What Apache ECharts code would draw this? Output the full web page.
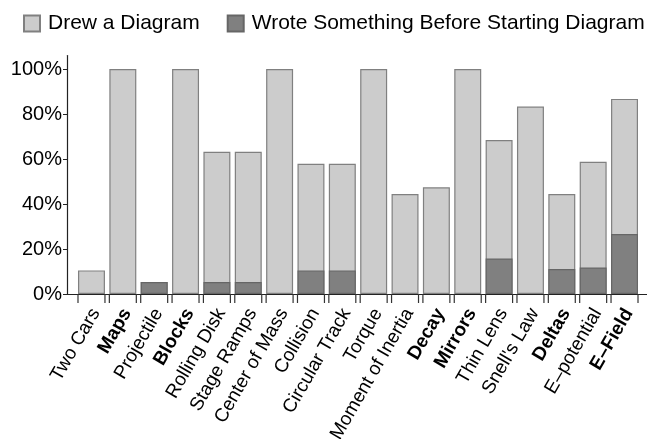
<!DOCTYPE html>
<html>
<head>
<meta charset="utf-8">
<script src="https://cdn.jsdelivr.net/npm/echarts@6/dist/echarts.min.js"></script>
<style>
  html, body { margin: 0; padding: 0; background: #fff; }
  #chart { width: 647px; height: 439px; }
</style>
</head>
<body>
<div id="chart"></div>
<script>
const categories = [
  "Two Cars", "Maps", "Projectile", "Blocks", "Rolling Disk", "Stage Ramps",
  "Center of Mass", "Collision", "Circular Track", "Torque", "Moment of Inertia",
  "Decay", "Mirrors", "Thin Lens", "Snell's Law", "Deltas", "E–potential", "E–Field",
];
const boldLabels = ["Maps", "Blocks", "Decay", "Mirrors", "Deltas", "E–Field"];

// percent of students
const drewDiagram = [10.5, 100, 5.3, 100, 63.2, 63.2, 100, 57.9, 57.9, 100, 44.4, 47.4, 100, 68.4, 83.3, 44.4, 58.8, 86.7];
const wroteFirst = [0, 0, 5.3, 0, 5.3, 5.3, 0, 10.5, 10.5, 0, 0, 0, 0, 15.8, 0, 11.1, 11.8, 26.7];

const yTicks = [0, 20, 40, 60, 80, 100];

const FONT = "'Liberation Sans', Arial, sans-serif";
const chart = echarts.init(document.getElementById("chart"));

const gridTop = 55.5, gridBottom = 145;

chart.setOption({
  animation: false,
  textStyle: { fontFamily: FONT },
  legend: {
    data: ["Drew a Diagram", "Wrote Something Before Starting Diagram"],
    left: 23,
    top: 13,
    padding: 0,
    icon: "rect",
    itemWidth: 16,
    itemHeight: 16,
    itemGap: 27,
    textStyle: { fontSize: 21, color: "#000", fontFamily: FONT, padding: [0, 0, 0, 3] },
  },
  grid: [
    // axis frame
    { left: 67, right: 0, top: gridTop, bottom: gridBottom, outerBoundsMode: "none" },
    // bars
    { left: 75.8, right: 6.8, top: gridTop, bottom: gridBottom, outerBoundsMode: "none" },
    // labels, nudged right
    { left: 80, right: 2.6, top: gridTop, bottom: gridBottom, outerBoundsMode: "none" },
  ],
  xAxis: [
    {
      gridIndex: 0, type: "value", min: 0, max: 1,
      axisLine: { show: true, onZero: false, lineStyle: { color: "#222", width: 1.2 } },
      axisTick: { show: false }, axisLabel: { show: false }, splitLine: { show: false },
    },
    {
      gridIndex: 1, type: "category", data: categories,
      axisLine: { show: false }, axisTick: { show: false }, axisLabel: { show: false },
    },
    {
      gridIndex: 2, type: "category", data: categories,
      axisLine: { show: false }, axisTick: { show: false },
      axisLabel: {
        interval: 0,
        rotate: 60,
        margin: 16,
        fontSize: 19,
        color: "#000",
        fontFamily: FONT,
        formatter: (name) => (boldLabels.includes(name) ? "{b|" + name + "}" : name),
        rich: { b: { fontWeight: "bold", fontSize: 19, fontFamily: FONT, color: "#000" } },
      },
    },
  ],
  yAxis: [
    {
      gridIndex: 0, type: "value", min: 0, max: 106,
      axisLine: { show: true, lineStyle: { color: "#222", width: 1.2 } },
      axisTick: { show: true, length: 4, customValues: yTicks, lineStyle: { color: "#222" } },
      axisLabel: {
        customValues: yTicks,
        formatter: "{value}%",
        fontSize: 20,
        color: "#000",
        margin: 5,
        fontFamily: FONT,
      },
      splitLine: { show: false },
    },
    { gridIndex: 1, type: "value", min: 0, max: 106, show: false },
    { gridIndex: 2, type: "value", min: 0, max: 106, show: false },
  ],
  series: [
    {
      name: "Drew a Diagram",
      type: "bar",
      xAxisIndex: 1, yAxisIndex: 1,
      data: drewDiagram,
      barCategoryGap: "14%",
      itemStyle: { color: "#cccccc", borderColor: "#808080", borderWidth: 1.2 },
    },
    {
      name: "Wrote Something Before Starting Diagram",
      type: "bar",
      xAxisIndex: 1, yAxisIndex: 1,
      data: wroteFirst.map((v) => (v > 0 ? v : "-")),
      barGap: "-100%",
      barCategoryGap: "14%",
      itemStyle: { color: "#808080", borderColor: "#666666", borderWidth: 1.2 },
    },
    {
      // tick marks at both edges of every bar
      type: "custom",
      xAxisIndex: 1, yAxisIndex: 1,
      silent: true,
      clip: false,
      data: categories.map((_, i) => [i, 0]),
      renderItem(params, api) {
        const p = api.coord([api.value(0), 0]);
        const half = api.size([1, 0])[0] * 0.86 / 2;
        const style = { stroke: "#333", lineWidth: 1.2 };
        return {
          type: "group",
          children: [
            { type: "line", shape: { x1: p[0] - half, y1: p[1], x2: p[0] - half, y2: p[1] + 9 }, style },
            { type: "line", shape: { x1: p[0] + half, y1: p[1], x2: p[0] + half, y2: p[1] + 9 }, style },
          ],
        };
      },
    },
  ],
});
</script>
</body>
</html>
